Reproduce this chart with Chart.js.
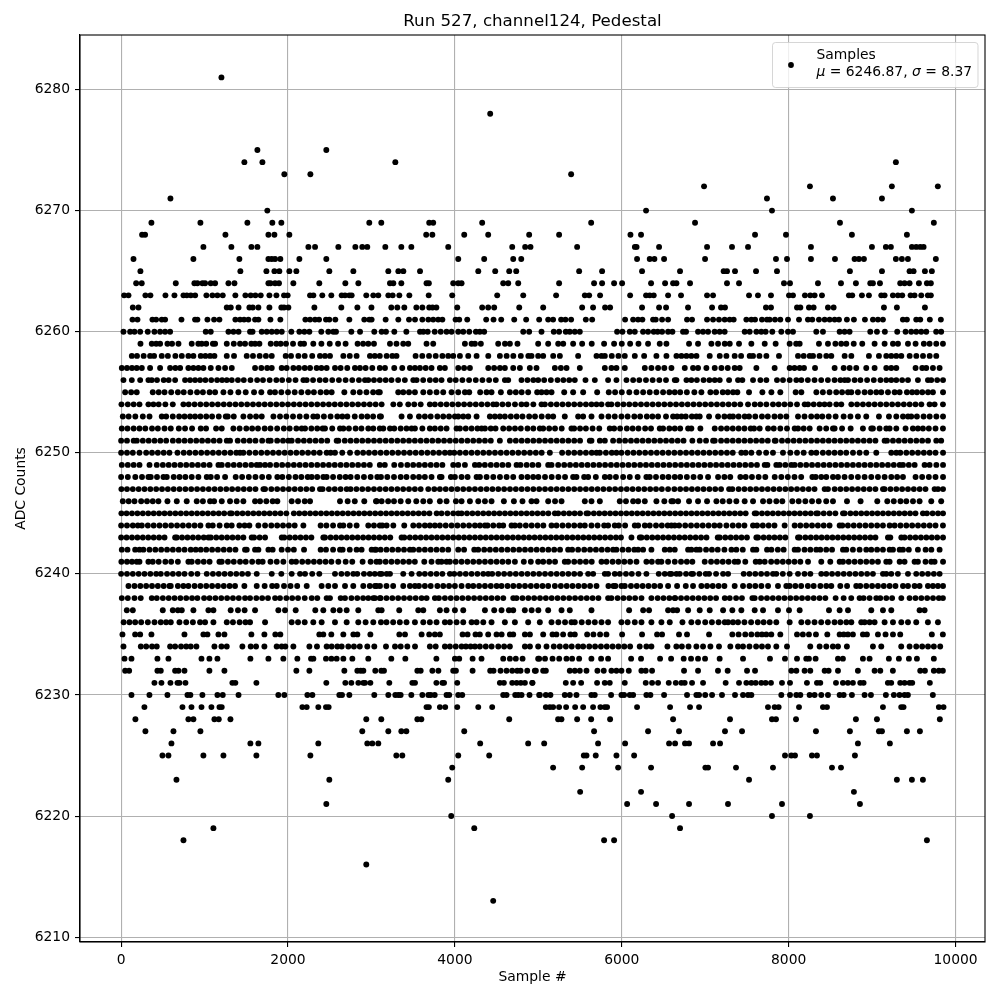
<!DOCTYPE html>
<html><head><meta charset="utf-8">
<style>html,body{margin:0;padding:0;background:#fff}#w{width:1000px;height:1000px;position:relative}</style>
<script src="https://cdn.jsdelivr.net/npm/chart.js@4"></script></head>
<body><div id="w"><canvas id="c" width="1000" height="1000"></canvas></div>
<script>
const titleText="Run 527, channel124, Pedestal";
const xLabel="Sample #";
const yLabel="ADC Counts";
const xTicks=[0,2000,4000,6000,8000,10000];
const yTicks=[6210,6220,6230,6240,6250,6260,6270,6280];
const row6281=[1202];
const row6278=[4423];
const row6275=[1633,2459];
const row6274=[1477,1693,3286,9285];
const row6273=[1956,2268,5393];
const row6272=[6986,8255,9237,9788];
const row6271=[591,7740,8531,9118];
const row6270=[1752,6291,7800,9477];
const row6269=[363,950,1513,1812,1920,2974,3118,3692,3740,4327,5633,6878,8615,9740];
const row6268=[251,287,1250,1765,1837,2016,3656,3730,4112,4399,4890,5249,6104,6231,7597,7968,8758,9417];
const row6267=[986,1321,1561,1633,2244,2324,2603,2807,2890,2950,3166,3358,3478,3920,4687,4842,4906,5465,6157,6177,6447,7022,7321,7513,8267,8998,9165,9225,9477,9529,9577,9617];
const row6266=[148,866,1417,1765,1805,1845,1908,2136,2459,4040,4351,4699,4795,6183,6335,6391,6507,6998,7848,7980,8267,8555,8790,8842,8902,9285,9357,9429,9764];
const row6265=[231,1429,1741,1837,1896,2016,2100,2495,2783,3202,3322,3382,3582,4280,4483,4651,4735,5489,5764,6243,6698,7221,7261,7357,7609,7860,8734,9118,9449,9497,9633,9716];
const row6264=[180,247,655,878,914,974,1006,1074,1126,1286,1358,1765,1790,1845,1892,2064,2375,2687,2843,3222,3262,3358,3660,3688,3980,4040,4080,4579,4639,4759,5249,5668,5764,5908,6004,6351,6519,6615,6655,6818,7261,7405,7944,8016,8351,8627,8806,8978,9010,9094,9337,9389,9449,9561,9657,9704];
const row6263=[36,88,291,351,531,639,747,787,835,887,1022,1094,1154,1218,1369,1489,1553,1609,1673,1777,1861,1952,1996,2264,2304,2411,2519,2643,2683,2735,2763,2938,3022,3082,3202,3254,3334,3454,3686,3968,4507,4819,5213,5557,5609,5740,6100,6291,6335,6383,6555,6710,7022,7094,7525,7632,7788,8004,8052,8195,8259,8311,8399,8722,8762,8878,8962,9110,9150,9249,9309,9361,9461,9509,9589,9668,9704];
const row6262=[140,208,1266,1314,1407,1537,1577,1645,1777,1920,1952,2004,2316,2639,2831,3000,3238,3310,3394,3538,3610,3692,3732,3778,4028,4327,4399,4471,4771,5058,5525,5656,5800,5860,6243,6447,6531,6794,7082,7189,7237,7728,7788,8100,8140,8243,8299,8471,8539,9142,9297,9633];
const row6261=[136,196,375,419,487,527,723,886,914,1034,1114,1178,1369,1425,1473,1525,1605,1645,1789,1908,2208,2264,2324,2372,2455,2495,2567,2735,2914,2974,3002,3170,3322,3450,3522,3610,3682,3740,3800,3850,4008,4052,4148,4375,4463,4555,4711,4854,5010,5118,5177,5273,5325,5393,5569,5645,6040,6136,6195,6247,6375,6407,6483,6555,6782,6842,7022,7094,7165,7233,7293,7341,7493,7553,7597,7680,7740,7772,7836,7900,7992,8124,8231,8283,8363,8431,8491,8551,8603,8698,8782,8914,9010,9070,9130,9369,9417,9529,9577,9692,9824];
const row6260=[28,108,160,228,319,399,467,527,587,1014,1074,1286,1346,1407,1545,1575,1685,1745,1805,1865,1925,2040,2136,2196,2256,2399,2483,2543,2575,2759,2863,3034,3122,3174,3274,3418,3582,3622,3674,3758,3830,3900,3960,4040,4100,4172,4252,4299,4351,4819,4890,5038,5185,5249,5329,5377,5437,5497,5944,6008,6096,6156,6255,6315,6383,6430,6483,6555,6607,6734,6770,6914,6974,7034,7113,7173,7233,7473,7533,7613,7672,7724,7804,7912,7992,8052,8331,8411,8611,8670,8730,8978,9058,9153,9301,9401,9469,9529,9589,9649,9768,9828];
const row6259=[232,367,420,467,555,610,687,846,925,966,1020,1100,1126,1266,1350,1425,1485,1560,1605,1657,1793,1860,1912,1976,2060,2150,2192,2303,2400,2500,2600,2690,2834,2900,2962,3030,3222,3300,3381,3441,3660,3740,4120,4200,4240,4311,4519,4600,4659,4750,4998,5118,5238,5298,5417,5525,5640,5788,5908,6000,6100,6200,6315,6455,6535,6806,6914,7074,7154,7234,7294,7405,7553,7713,7844,8012,8090,8132,8363,8471,8560,8630,8691,8780,8882,9030,9150,9250,9310,9430,9521,9620,9689,9769,9849];
const row6258=[128,190,270,347,395,487,560,650,727,806,866,954,1010,1066,1118,1266,1353,1505,1580,1660,1735,1805,1972,2036,2124,2200,2290,2383,2443,2503,2663,2740,2822,2982,3040,3100,3182,3250,3300,3529,3609,3690,3770,3850,3920,3980,4060,4160,4260,4400,4539,4620,4700,4790,4880,4918,4998,5058,5178,5258,5477,5697,5757,5797,5880,5960,6036,6156,6268,6415,6535,6655,6715,6775,6834,6895,7054,7174,7254,7353,7430,7533,7573,7650,7733,7884,8112,8180,8252,8292,8370,8451,8511,8671,8751,8962,9082,9170,9230,9290,9350,9450,9530,9610,9690,9769];
const row6257=[8,70,130,187,248,347,467,587,650,707,806,866,926,986,1074,1166,1246,1326,1605,1680,1750,1805,1924,1984,2064,2130,2200,2264,2343,2400,2463,2563,2630,2710,2802,2862,2930,3010,3100,3162,3273,3369,3461,3521,3581,3650,3720,3820,3880,4040,4110,4180,4400,4470,4540,4599,4699,4779,4898,4978,5198,5270,5338,5497,5797,5876,5936,6036,6276,6355,6435,6510,6595,6755,6854,6914,7014,7114,7194,7270,7353,7413,7613,7832,8012,8070,8132,8184,8316,8551,8659,8731,8810,8930,9030,9170,9230,9290,9521,9601,9649,9729,9809];
const row6256=[28,128,228,327,367,430,510,570,647,766,826,886,946,1010,1080,1150,1210,1266,1326,1400,1470,1550,1630,1700,1780,1860,1930,2010,2090,2184,2224,2300,2380,2450,2530,2610,2690,2770,2850,2922,2962,3030,3100,3170,3240,3320,3400,3501,3541,3620,3700,3770,3840,3940,4010,4090,4170,4250,4330,4410,4490,4599,4639,4798,4870,4940,4998,5070,5150,5230,5300,5370,5437,5565,5677,5836,5936,6056,6136,6210,6290,6370,6450,6530,6635,6655,6775,6834,6900,6980,7050,7114,7174,7286,7393,7445,7573,7661,7733,7860,7932,8012,8092,8152,8230,8310,8390,8470,8550,8620,8671,8711,8790,8860,8940,9020,9100,9170,9230,9290,9360,9430,9549,9669,9709,9780,9850];
const row6255=[48,120,187,379,450,520,600,680,750,830,910,980,1060,1126,1226,1310,1405,1493,1593,1680,1785,1844,1920,2000,2080,2160,2240,2310,2390,2460,2523,2675,2782,2860,2940,3020,3100,3082,3321,3381,3450,3521,3621,3700,3780,3860,3960,4040,4120,4172,4303,4379,4439,4551,4659,4730,4800,4878,4986,5038,5098,5158,5310,5417,5537,5705,5844,5920,6000,6090,6176,6256,6335,6415,6495,6570,6635,6700,6780,6870,6954,7062,7130,7210,7270,7333,7385,7525,7685,7793,7900,8084,8152,8332,8410,8490,8570,8640,8711,8751,8830,8910,8980,9050,9110,9190,9270,9330,9417,9480,9537,9601,9670,9729,9850];
const row6254=[4,80,150,220,327,387,450,530,619,746,810,880,950,1020,1090,1160,1230,1300,1370,1440,1510,1580,1650,1720,1790,1860,1930,2000,2070,2140,2210,2280,2350,2420,2490,2560,2630,2700,2770,2840,2910,2980,3050,3122,3262,3340,3441,3513,3590,3700,3760,3830,3900,3970,4040,4110,4180,4250,4320,4390,4459,4499,4570,4640,4720,4798,4858,4940,5038,5078,5150,5220,5290,5360,5430,5500,5570,5637,5697,5757,5836,5876,5950,6020,6090,6160,6230,6300,6370,6440,6510,6580,6650,6720,6790,6860,6930,7000,7070,7140,7210,7280,7350,7420,7513,7593,7660,7733,7812,7880,7950,8020,8100,8192,8232,8300,8370,8430,8491,8571,8631,8751,8820,8890,8960,9030,9100,9170,9240,9310,9380,9450,9520,9590,9689,9749,9849];
const row6253=[20,90,170,260,340,487,540,619,695,760,826,886,950,1020,1090,1170,1254,1278,1350,1465,1545,1617,1685,1825,1904,1980,2060,2140,2220,2303,2351,2430,2510,2591,2651,2711,2800,2882,2950,3020,3100,3114,3361,3461,3569,3640,3710,3790,3860,3930,4000,4040,4100,4160,4260,4419,4479,4539,4599,4670,4740,4810,4890,4960,5040,5118,5178,5317,5477,5537,5637,5757,5840,5916,5996,6070,6150,6220,6300,6367,6435,6530,6615,6663,6715,6767,6840,6894,6934,7046,7154,7230,7294,7333,7400,7473,7525,7600,7680,7750,7830,7900,7972,8112,8190,8270,8340,8403,8480,8563,8659,8740,8830,8930,9082,9202,9290,9370,9430,9469,9537,9617,9690,9770,9850];
const row6252=[8,76,150,220,290,370,440,520,595,691,766,850,954,1018,1138,1206,1345,1420,1500,1570,1640,1720,1790,1870,1950,2020,2100,2164,2204,2280,2350,2415,2443,2530,2623,2663,2730,2810,2880,2962,3022,3100,3142,3222,3273,3350,3420,3481,3521,3610,3700,3760,3830,3900,4020,4060,4130,4200,4270,4320,4360,4430,4487,4579,4650,4720,4790,4870,4940,5018,5058,5130,5200,5280,5397,5429,5500,5570,5650,5730,5856,5908,5980,6060,6130,6200,6280,6350,6455,6495,6570,6635,6700,6795,6834,6942,7114,7190,7260,7330,7400,7470,7545,7585,7653,7753,7821,7900,7980,8072,8112,8180,8252,8371,8450,8531,8551,8640,8743,8890,8990,9010,9090,9170,9210,9290,9401,9489,9549,9609,9680,9760,9849];
const row6251=[0,70,150,188,260,330,400,470,540,620,690,760,830,900,970,1040,1110,1180,1266,1305,1397,1470,1540,1610,1690,1765,1793,1870,1940,2004,2044,2120,2190,2260,2330,2400,2470,2583,2603,2680,2750,2820,2890,2960,3030,3100,3170,3240,3310,3380,3450,3520,3590,3660,3730,3800,3870,3940,4010,4080,4150,4220,4290,4360,4430,4539,4659,4730,4800,4870,4940,5010,5080,5150,5220,5290,5360,5430,5500,5617,5637,5737,5797,5896,5970,6040,6110,6180,6250,6320,6390,6460,6530,6600,6670,6740,6846,6934,7010,7094,7114,7190,7260,7330,7400,7470,7540,7610,7680,7750,7833,7844,7920,7990,8060,8130,8200,8270,8340,8410,8480,8550,8620,8690,8760,8830,8900,8970,9040,9150,9178,9250,9320,9390,9460,9530,9600,9670,9769,9828];
const row6250=[0,70,140,220,300,370,440,510,579,675,750,820,890,960,1030,1100,1170,1240,1310,1380,1425,1465,1537,1610,1680,1750,1820,1890,1960,2030,2100,2170,2240,2310,2380,2463,2511,2563,2650,2743,2830,2900,2970,3040,3110,3180,3250,3320,3390,3460,3530,3600,3670,3740,3810,3880,3940,3992,4060,4130,4200,4270,4340,4410,4480,4550,4620,4690,4760,4830,4900,4970,5040,5138,5285,5360,5430,5500,5570,5640,5697,5737,5810,5880,5936,5996,6070,6140,6210,6280,6350,6420,6490,6560,6630,6700,6770,6840,6910,6980,7050,7120,7190,7260,7330,7433,7485,7553,7645,7730,7812,7932,8020,8100,8180,8272,8332,8410,8480,8550,8620,8690,8771,8850,8930,9050,9230,9290,9338,9410,9480,9550,9620,9690,9760,9850];
const row6249=[8,80,150,220,340,427,500,570,640,710,780,850,920,990,1060,1166,1206,1280,1350,1420,1490,1560,1625,1665,1725,1785,1860,1930,2000,2070,2140,2210,2280,2350,2420,2490,2560,2630,2700,2770,2840,2910,2980,3100,3160,3273,3353,3430,3500,3570,3640,3710,3780,3850,3980,4040,4120,4240,4291,4359,4430,4500,4570,4640,4739,4786,4860,4930,5000,5118,5158,5238,5310,5380,5450,5520,5590,5660,5730,5800,5870,5940,6010,6080,6150,6220,6290,6360,6430,6500,6570,6640,6710,6780,6850,6920,6990,7060,7130,7200,7270,7340,7410,7480,7550,7620,7713,7745,7852,7892,7960,8032,8072,8140,8210,8280,8350,8420,8490,8560,8630,8700,8770,8840,8910,8980,9050,9120,9190,9260,9330,9370,9440,9510,9629,9689,9770,9850];
const row6248=[0,80,170,250,327,355,430,507,547,630,700,770,846,926,1026,1074,1150,1246,1373,1450,1530,1610,1690,1770,1872,1932,2010,2090,2160,2236,2284,2350,2423,2463,2540,2620,2690,2750,2830,2910,2990,3070,3114,3190,3270,3350,3420,3500,3570,3640,3720,3820,3840,3952,4000,4080,4152,4260,4300,4380,4460,4540,4620,4699,4798,4870,4938,5000,5080,5160,5240,5320,5417,5457,5549,5597,5689,5797,5856,5930,6016,6096,6190,6295,6335,6410,6490,6560,6635,6700,6780,6860,6940,7034,7154,7230,7300,7421,7485,7560,7640,7720,7833,7912,7990,8070,8150,8284,8324,8391,8451,8531,8591,8670,8750,8830,8910,8990,9070,9150,9230,9300,9370,9521,9600,9680,9760,9850];
const row6247=[3,70,140,210,280,350,420,490,560,630,700,770,840,910,980,1050,1120,1190,1260,1330,1400,1470,1540,1610,1705,1725,1800,1870,1940,2010,2080,2150,2220,2290,2383,2415,2490,2560,2630,2703,2750,2820,2890,2960,3030,3100,3170,3240,3310,3380,3450,3520,3590,3681,3753,3820,3890,3960,4030,4100,4170,4240,4310,4380,4450,4520,4590,4660,4730,4800,4870,4940,5010,5080,5150,5220,5290,5360,5430,5500,5570,5640,5710,5780,5850,5920,5990,6060,6130,6200,6270,6340,6410,6480,6555,6630,6700,6770,6840,6910,6980,7050,7120,7190,7286,7325,7400,7470,7540,7610,7680,7750,7820,7890,7960,8030,8100,8170,8240,8310,8431,8471,8551,8620,8690,8760,8830,8900,8970,9040,9130,9150,9220,9290,9360,9430,9500,9570,9640,9749,9790,9850];
const row6246=[20,90,160,240,310,379,447,555,667,786,906,980,1066,1114,1206,1305,1385,1465,1605,1665,1740,1816,1872,2044,2120,2200,2264,2623,2715,2800,2914,3054,3062,3122,3200,3270,3350,3441,3537,3621,3700,3820,3900,4012,4080,4180,4280,4360,4439,4587,4707,4810,4918,4978,5118,5200,5278,5557,5637,5737,5976,6050,6136,6196,6276,6415,6510,6595,6615,6675,6806,6914,7022,7134,7210,7290,7373,7473,7573,7693,7770,7852,7924,8044,8120,8200,8280,8360,8450,8531,8699,8862,9062,9182,9260,9340,9410,9490,9569,9709,9828];
const row6245=[3,65,130,195,260,325,390,455,520,585,650,715,780,845,910,975,1040,1105,1170,1235,1305,1325,1390,1455,1520,1585,1650,1715,1780,1845,1910,1980,2070,2135,2200,2265,2330,2395,2460,2525,2590,2655,2720,2785,2850,2915,2980,3045,3110,3175,3240,3305,3370,3435,3500,3565,3630,3695,3781,3840,3910,3980,4040,4080,4145,4210,4275,4340,4405,4470,4535,4600,4665,4730,4795,4860,4925,4990,5055,5120,5198,5238,5305,5370,5435,5500,5577,5597,5665,5730,5795,5860,5925,5990,6055,6120,6185,6250,6315,6380,6445,6510,6575,6640,6705,6770,6835,6900,6965,7030,7095,7160,7225,7290,7355,7420,7485,7593,7613,7680,7745,7810,7875,7940,8005,8070,8135,8200,8265,8331,8351,8420,8490,8560,8651,8671,8740,8805,8870,8935,9000,9065,9130,9195,9260,9325,9390,9455,9520,9609,9657,9725,9790,9850];
const row6244=[0,70,140,200,248,320,390,460,530,600,670,740,810,880,950,1046,1098,1180,1266,1325,1417,1480,1537,1645,1725,1800,1870,1940,2010,2080,2184,2391,2460,2540,2623,2663,2740,2822,2962,3030,3100,3130,3182,3262,3393,3501,3570,3640,3700,3760,3820,3890,3960,4030,4100,4170,4240,4300,4360,4391,4460,4530,4579,4679,4719,4778,4850,4920,4990,5060,5158,5218,5290,5360,5430,5500,5557,5637,5710,5789,5836,5916,5964,6040,6156,6196,6276,6335,6410,6480,6550,6635,6595,6687,6760,6830,6900,6970,7040,7110,7174,7254,7330,7400,7470,7573,7621,7690,7760,7830,7952,8072,8140,8210,8280,8350,8420,8490,8611,8643,8710,8780,8850,8920,8990,9060,9130,9210,9270,9340,9410,9480,9550,9620,9690,9760,9849];
const row6243=[0,65,130,195,260,325,390,455,520,647,667,730,795,860,925,990,1046,1075,1140,1205,1270,1335,1400,1465,1565,1593,1660,1725,1925,1955,2020,2085,2150,2215,2280,2423,2443,2510,2575,2640,2705,2770,2835,2900,2965,3030,3095,3160,3225,3361,3393,3460,3525,3590,3655,3720,3785,3850,3915,3980,4045,4110,4175,4240,4305,4370,4435,4500,4565,4630,4695,4760,4825,4890,4955,5020,5085,5150,5215,5280,5345,5410,5475,5540,5605,5670,5735,5800,5865,5930,5990,6116,6216,6236,6300,6365,6430,6495,6560,6625,6690,6755,6820,6885,6950,7015,7150,7174,7240,7305,7370,7435,7500,7613,7633,7700,7765,7830,7895,7960,8112,8132,8200,8265,8330,8395,8460,8525,8590,8655,8720,8785,8850,8915,8980,9040,9190,9218,9350,9389,9455,9520,9585,9650,9715,9780,9850];
const row6242=[8,76,168,220,267,340,410,480,550,620,690,760,834,894,954,1020,1090,1160,1230,1300,1370,1485,1505,1605,1645,1765,1816,1924,2000,2070,2192,2391,2455,2540,2623,2655,2740,2822,2882,3002,3054,3042,3110,3180,3250,3320,3390,3461,3501,3570,3640,3710,3780,3850,3920,4040,4110,4232,4279,4351,4420,4490,4560,4630,4700,4770,4840,4910,4980,5050,5120,5190,5260,5357,5405,5477,5550,5620,5690,5760,5830,5896,5936,6010,6080,6150,6196,6256,6355,6515,6575,6635,6795,6834,6894,6934,7010,7080,7150,7230,7314,7373,7450,7573,7613,7741,7793,7870,7940,8072,8112,8190,8260,8331,8379,8450,8520,8651,8691,8770,8850,8930,8990,9060,9130,9210,9250,9330,9370,9440,9549,9641,9710,9809];
const row6241=[3,70,130,187,220,327,379,450,530,600,680,806,846,920,990,1060,1178,1206,1280,1350,1425,1493,1570,1645,1696,1790,1865,1944,2044,2096,2170,2240,2310,2380,2450,2520,2603,2691,2770,2894,2990,3060,3100,3170,3240,3310,3380,3450,3520,3633,3720,3800,3840,3900,3940,4010,4080,4150,4220,4290,4360,4430,4500,4570,4640,4719,4826,4910,4998,5058,5130,5200,5317,5357,5430,5500,5570,5640,5757,5817,5890,5960,6030,6100,6176,6295,6360,6435,6475,6555,6635,6710,6780,6846,6994,7070,7140,7210,7280,7353,7393,7480,7605,7653,7713,7790,7860,7930,8000,8070,8140,8232,8391,8499,8611,8651,8720,8790,8860,8930,9000,9070,9170,9210,9330,9389,9509,9549,9640,9709,9749,9850];
const row6240=[0,70,140,210,280,350,420,475,550,620,690,760,840,914,1026,1100,1170,1240,1310,1380,1450,1520,1625,1805,1920,2044,2144,2204,2290,2375,2563,2640,2710,2782,2830,2910,2980,3040,3100,3122,3182,3222,3381,3481,3573,3640,3710,3780,3850,3940,3992,4060,4130,4200,4270,4340,4399,4447,4520,4590,4660,4730,4800,4870,4940,5010,5080,5150,5220,5290,5360,5430,5500,5597,5657,5797,5836,5916,5976,6050,6120,6200,6295,6443,6515,6595,6575,6655,6695,6770,6834,6854,6930,7006,7046,7130,7214,7274,7461,7530,7600,7670,7740,7812,7852,7930,8012,8112,8190,8260,8391,8451,8520,8590,8660,8730,8800,8870,8940,9010,9130,9170,9230,9309,9430,9529,9600,9670,9740,9809];
const row6239=[88,160,230,300,370,440,510,579,595,680,746,806,880,950,1020,1090,1160,1230,1300,1365,1477,1625,1720,1810,1865,1952,2030,2110,2224,2403,2483,2563,2683,2782,2902,2980,3062,3042,3102,3180,3260,3381,3461,3521,3569,3640,3710,3790,3860,3930,4000,4080,4160,4220,4290,4360,4430,4500,4559,4631,4700,4770,4840,4910,4980,5050,5118,5198,5270,5340,5410,5480,5550,5620,5697,5840,5900,5924,5996,6036,6110,6180,6250,6320,6390,6460,6555,6663,6767,6854,6954,7022,7090,7160,7230,7353,7453,7530,7600,7673,7753,7872,7972,8012,8080,8150,8230,8300,8380,8451,8511,8619,8700,8810,8858,8930,9000,9070,9140,9210,9280,9370,9430,9509,9569,9669,9729,9789,9850];
const row6238=[8,80,160,235,367,427,500,570,640,710,780,850,914,994,1060,1130,1200,1270,1340,1410,1485,1545,1620,1690,1760,1845,1904,1980,2050,2120,2200,2284,2351,2463,2503,2631,2683,2760,2830,2900,2962,3022,3100,3042,3110,3180,3250,3320,3390,3460,3530,3601,3661,3760,3808,3880,3950,4020,4090,4160,4230,4300,4370,4440,4510,4580,4699,4739,4810,4880,4950,5020,5090,5160,5230,5300,5370,5440,5510,5580,5650,5720,5836,5876,5950,6020,6090,6160,6236,6355,6430,6500,6570,6635,6640,6710,6780,6850,6920,6990,7060,7130,7234,7294,7370,7440,7565,7593,7670,7740,7810,7880,7950,8020,8090,8160,8230,8300,8370,8440,8563,8659,8750,8850,8898,8970,9050,9098,9170,9240,9350,9449,9520,9590,9660,9730,9800,9849];
const row6237=[68,140,499,619,680,727,866,1046,1106,1313,1400,1480,1605,1884,1964,2092,2327,2423,2543,2620,2703,2842,3082,3122,3333,3561,3621,3820,3900,4000,4100,4360,4471,4559,4647,4699,4838,4920,5000,5118,5278,5377,5637,6088,6256,6327,6555,6615,6663,6795,6934,7054,7214,7325,7433,7593,7693,7872,8004,8132,8483,8611,8711,8990,9130,9230,9569,9629];
const row6236=[30,100,168,240,320,400,475,539,595,699,780,860,946,1006,1106,1266,1340,1420,1490,1545,1725,2044,2120,2200,2303,2403,2563,2703,2842,2930,3022,3114,3180,3260,3340,3420,3521,3621,3700,3780,3880,3940,4020,4100,4200,4260,4340,4439,4599,4719,4878,5018,5158,5240,5320,5397,5437,5520,5600,5677,5757,5836,5996,6070,6156,6236,6355,6475,6575,6727,6834,6914,7000,7080,7160,7234,7274,7333,7393,7470,7550,7630,7700,7773,7852,8012,8152,8230,8310,8390,8470,8550,8620,8691,8751,8870,8910,8970,9030,9150,9250,9350,9430,9529,9669,9789];
const row6235=[16,168,228,363,759,986,1034,1166,1238,1561,1717,1848,1908,2375,2423,2519,2663,2783,2831,2987,3334,3402,3601,3692,3760,3820,4092,4152,4247,4299,4399,4499,4560,4659,4699,4839,4899,5058,5170,5217,5297,5385,5437,5585,5660,5740,5816,6004,6243,6423,6483,6686,6782,7046,7325,7400,7480,7553,7625,7680,7732,7792,7900,8100,8170,8243,8327,8463,8611,8660,8710,8770,8890,8938,9070,9161,9250,9337,9716,9848];
const row6234=[28,236,300,370,427,587,647,718,780,834,902,1118,1202,1266,1453,1553,1617,1717,1864,1924,1968,2064,2256,2347,2463,2523,2591,2643,2723,2790,2860,2950,3034,3174,3282,3350,3430,3522,3700,3770,3880,3940,4010,4080,4132,4188,4240,4299,4370,4440,4520,4590,4659,4839,4899,4998,5098,5185,5257,5330,5400,5477,5537,5610,5680,5750,5820,5890,5960,6030,6100,6215,6295,6355,6547,6654,6720,6800,6894,6974,7062,7165,7301,7393,7453,7530,7610,7680,7752,7852,7980,8259,8371,8451,8530,8591,8698,9010,9110,9349,9449,9529,9600,9670,9740,9816];
const row6233=[40,124,435,567,963,1058,1154,1549,1765,1944,2112,2276,2304,2455,2520,2583,2663,2771,2962,3238,3406,3778,4000,4052,4212,4319,4579,4659,4730,4811,5010,4998,5080,5170,5250,5337,5405,5489,5636,5752,5836,6112,6231,6459,6591,6742,6830,6914,6998,7173,7453,7776,7956,8100,8211,8243,8323,8591,8650,8890,8970,9201,9321,9441,9537,9740];
const row6232=[48,96,435,475,647,687,759,1058,1238,2100,2256,2675,2831,2871,2903,3046,3118,3150,3550,3590,3730,3802,3980,4012,4212,4423,4463,4547,4619,4687,4747,4787,4867,4958,4970,5058,5090,5377,5437,5497,5577,5708,5784,5876,5936,5996,6084,6235,6287,6363,6746,6914,7153,7269,7501,7597,8032,8092,8191,8259,8431,8479,8591,8830,9030,9098,9249,9577,9633,9740,9800,9848];
const row6231=[399,483,591,675,699,771,1333,1369,1621,2459,2687,2759,2843,2903,2923,2987,3214,3490,3522,3778,3850,3870,4028,4539,4587,4687,4740,4790,4839,4927,4930,5329,5417,5513,5704,5796,5856,6036,6287,6363,6435,6563,6647,6714,6754,6842,6974,7245,7405,7493,7553,7605,7672,7724,7788,7920,8016,8219,8339,8379,8567,8650,8710,8770,8858,8898,9189,9229,9337,9389,9449,9481,9692];
const row6230=[124,339,555,795,830,974,1154,1218,1407,1884,1956,2232,2292,2615,2647,2735,3034,3202,3286,3322,3350,3478,3610,3682,3710,3758,3900,3932,4040,4088,4579,4619,4723,4759,4799,4894,5010,5018,5090,5145,5317,5377,5457,5636,5676,5872,5996,6028,6096,6136,6295,6343,6507,6782,6894,6926,7000,7082,7201,7357,7453,7513,7553,7912,8016,8092,8140,8251,8311,8391,8471,8611,8659,8758,8910,8986,9165,9261,9329,9389,9429,9728];
const row6229=[279,735,843,963,1082,1178,1206,2172,2224,2363,2455,2487,3660,3688,3820,3884,4028,4280,4447,5090,5138,5177,5249,5333,5441,5537,5656,5744,5796,5824,6183,6579,6818,6926,7752,7832,7880,8124,8411,8459,9130,9349,9377,9800,9856];
const row6228=[171,806,866,1118,1170,1310,2938,3118,3550,3598,4651,5237,5277,5465,5633,5860,6615,7297,7800,7848,8088,8806,9058,9812];
const row6227=[291,627,950,2890,3202,3358,3418,4112,5668,6315,6686,7237,7441,8327,8734,9082,9118,9417,9573];
const row6226=[603,1549,1645,2363,2950,3010,3082,4303,4878,5070,5716,6040,6567,6639,6758,6806,7094,7178,8830,9213];
const row6225=[495,567,986,1226,1621,2268,3298,3370,4040,4411,5545,5577,5688,5936,6148,7956,8032,8076,8279,8339,8794];
const row6224=[3968,5177,5525,5956,6351,7002,7034,7369,7812,8519,8627];
const row6223=[663,2495,3920,7525,9297,9477,9609];
const row6222=[5501,6231,8782];
const row6221=[2459,6064,6411,6806,7273,7920,8854];
const row6220=[3956,6603,7800,8255];
const row6219=[1106,4232,6698];
const row6218=[747,5788,5908,9657];
const row6216=[2938];
const row6213=[4459];
const rows=[[6281,row6281],[6278,row6278],[6275,row6275],[6274,row6274],[6273,row6273],[6272,row6272],[6271,row6271],[6270,row6270],[6269,row6269],[6268,row6268],[6267,row6267],[6266,row6266],[6265,row6265],[6264,row6264],[6263,row6263],[6262,row6262],[6261,row6261],[6260,row6260],[6259,row6259],[6258,row6258],[6257,row6257],[6256,row6256],[6255,row6255],[6254,row6254],[6253,row6253],[6252,row6252],[6251,row6251],[6250,row6250],[6249,row6249],[6248,row6248],[6247,row6247],[6246,row6246],[6245,row6245],[6244,row6244],[6243,row6243],[6242,row6242],[6241,row6241],[6240,row6240],[6239,row6239],[6238,row6238],[6237,row6237],[6236,row6236],[6235,row6235],[6234,row6234],[6233,row6233],[6232,row6232],[6231,row6231],[6230,row6230],[6229,row6229],[6228,row6228],[6227,row6227],[6226,row6226],[6225,row6225],[6224,row6224],[6223,row6223],[6222,row6222],[6221,row6221],[6220,row6220],[6219,row6219],[6218,row6218],[6216,row6216],[6213,row6213]];
const points=[];
rows.forEach(([v,xs])=>xs.forEach(x=>points.push({x:x,y:v})));
const F='"DejaVu Sans"';
const legendPlugin={id:'frameAndLegend',afterDatasetsDraw(ch){
  const c=ch.ctx,a=ch.chartArea;
  c.save();
  c.strokeStyle='#000';c.lineWidth=1.1;
  c.strokeRect(a.left,a.top,a.right-a.left,a.bottom-a.top);
  const bx=772.5,by=42.5,bw=205.5,bh=45,r=3;
  c.beginPath();c.roundRect(bx,by,bw,bh,r);
  c.fillStyle='rgba(255,255,255,0.8)';c.fill();
  c.strokeStyle='rgba(204,204,204,0.8)';c.lineWidth=1;c.stroke();
  c.fillStyle='#000';c.beginPath();c.arc(791,65,2.9,0,Math.PI*2);c.fill();
  c.textBaseline='alphabetic';c.textAlign='left';
  c.font='13.89px '+F;c.fillText('Samples',816.5,59);
  let x=816.5;const y=76;
  [['italic','μ'],['normal',' = 6246.87, '],['italic','σ'],['normal',' = 8.37']].forEach(([s,t])=>{
    c.font=s+' 13.89px '+F;c.fillText(t,x,y);x+=c.measureText(t).width;});
  c.restore();
}};
new Chart(document.getElementById('c'),{
  type:'scatter',
  data:{datasets:[{label:'Samples',data:points,backgroundColor:'#000',borderWidth:0,pointRadius:2.95,pointHoverRadius:2.95}]},
  plugins:[legendPlugin],
  options:{responsive:false,animation:false,events:[],
    layout:{padding:{left:0,right:15,top:0,bottom:0}},
    plugins:{legend:{display:false},tooltip:{enabled:false},
      title:{display:true,text:titleText,fullSize:false,color:'#000',font:{family:F,size:16.67,weight:'normal'},padding:{top:12,bottom:3}}},
    scales:{
      x:{type:'linear',min:-493,max:10353,
        afterBuildTicks(s){s.ticks=xTicks.map(v=>({value:v}));},
        afterFit(s){s.height=58;},
        grid:{color:'#b0b0b0',lineWidth:1.1,tickColor:'#000',tickLength:5,drawTicks:true},
        border:{color:'#000',width:1.1},
        ticks:{color:'#000',font:{family:F,size:13.89},maxRotation:0,autoSkip:false,padding:5,callback:v=>String(v)},
        title:{display:true,text:xLabel,color:'#000',font:{family:F,size:13.89},padding:{top:1,bottom:14}}},
      y:{type:'linear',min:6209.6,max:6284.5,
        afterBuildTicks(s){s.ticks=yTicks.map(v=>({value:v}));},
        afterFit(s){s.width=80;},
        grid:{color:'#b0b0b0',lineWidth:1.1,tickColor:'#000',tickLength:5,drawTicks:true},
        border:{color:'#000',width:1.1},
        ticks:{color:'#000',font:{family:F,size:13.89},autoSkip:false,padding:5,callback:v=>String(v)},
        title:{display:true,text:yLabel,color:'#000',font:{family:F,size:13.89},padding:{top:13,bottom:0}}}
    }}
});
</script></body></html>
